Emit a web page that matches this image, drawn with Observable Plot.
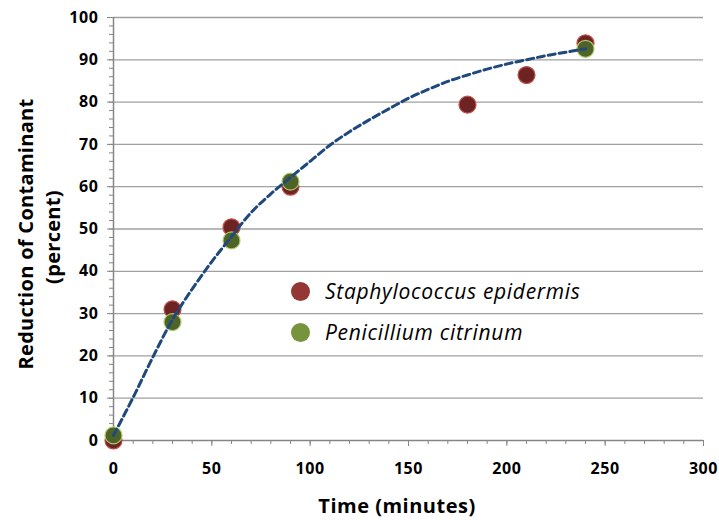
<!DOCTYPE html>
<html>
<head>
<meta charset="utf-8">
<script src="https://cdn.jsdelivr.net/npm/d3@7"></script>
<script src="https://cdn.jsdelivr.net/npm/@observablehq/plot@0.6"></script>
<style>
  html, body { margin: 0; padding: 0; background: #fff; }
  #wrap { position: relative; width: 719px; height: 520px; font-family: "Open Sans", sans-serif; }
  .leg { position: absolute; left: 291px; display: flex; align-items: center; font-style: italic; font-size: 21px; letter-spacing: 0.7px; color: #000; }
  .leg span.m { display: inline-block; width: 19px; height: 19px; border-radius: 50%; margin-right: 15px; }
  .ylab { position: absolute; font-weight: bold; font-size: 20px; letter-spacing: 0.3px; white-space: nowrap; transform: translate(-50%, -50%) rotate(-90deg); }
</style>
</head>
<body>
<div id="wrap"></div>
<script>
// ---- data ----
const staphTime = [0, 30, 60, 90, 180, 210, 240];
const staphReduction = [0, 31, 50.4, 60, 79.4, 86.4, 93.9];
const peniTime = [0, 30, 60, 90, 240];
const peniReduction = [1.2, 28, 47.3, 61.2, 92.6];
// trend line
const trendTime = [0, 10, 20, 30, 40, 50, 60, 70, 80, 90, 100, 110, 120, 130, 140, 150, 160, 170, 180, 190, 200, 210, 220, 230, 240];
const trendReduction = [1.2, 10.2, 19.7, 28.6, 35.8, 42.3, 48.2, 53.9, 58.3, 62.2, 66.0, 69.8, 73.0, 75.8, 78.4, 80.9, 83.0, 84.9, 86.4, 87.8, 89.0, 90.0, 91.0, 91.8, 92.6];
const xTicks = [0, 50, 100, 150, 200, 250, 300];
const yTicks = [0, 10, 20, 30, 40, 50, 60, 70, 80, 90, 100];
const seriesNames = ["Staphylococcus epidermis", "Penicillium citrinum"];
const seriesColors = ["#943634", "#77933c"];

const staph = staphTime.map((t, i) => ({t, v: staphReduction[i]}));
const peni = peniTime.map((t, i) => ({t, v: peniReduction[i]}));
const trend = trendTime.map((t, i) => ({t, v: trendReduction[i]}));

const axisColor = "#868686";
const chart = Plot.plot({
  width: 719,
  height: 520,
  marginLeft: 113,
  marginRight: 16,
  marginTop: 17,
  marginBottom: 80,
  style: {fontFamily: "'Open Sans', sans-serif", fontSize: "16px", fontWeight: "bold", color: "#000", background: "#fff", letterSpacing: "0.6px"},
  x: {domain: [0, 300], label: null},
  y: {domain: [0, 100], label: null},
  marks: [
    Plot.gridY(yTicks.slice(1), {stroke: "#a0a0a0", strokeOpacity: 1, strokeWidth: 1.3}),
    // minor ticks
    Plot.axisY(d3.range(0, 101, 2), {tickSize: 4, text: null, stroke: axisColor}),
    Plot.axisX(d3.range(0, 301, 10), {tickSize: 4, text: null, stroke: axisColor}),
    // major ticks with labels
    Plot.axisY(yTicks, {tickSize: 6, tickPadding: 9, stroke: axisColor, fill: "#000", fontWeight: "bold", fontSize: 16}),
    Plot.axisX(xTicks, {tickSize: 6, tickPadding: 16, stroke: axisColor, fill: "#000", fontWeight: "bold", fontSize: 16}),
    Plot.ruleX([0], {stroke: axisColor, strokeWidth: 1.5}),
    Plot.ruleY([0], {stroke: axisColor, strokeWidth: 1.5}),
    Plot.dot(staph, {x: "t", y: "v", r: 8.5, fill: "#6e2323", stroke: "#c0504d", strokeWidth: 1.2}),
    Plot.dot(peni, {x: "t", y: "v", r: 8.5, fill: "#4f6228", stroke: "#a9c96a", strokeWidth: 1.2}),
    Plot.line(trend, {x: "t", y: "v", curve: "catmull-rom", stroke: "#1f497d", strokeWidth: 3, strokeDasharray: "7,4"})
  ]
});

const wrap = document.getElementById("wrap");
wrap.appendChild(chart);

// axis titles
const xt = document.createElement("div");
xt.textContent = "Time (minutes)";
xt.style.cssText = "position:absolute;left:397px;top:505px;transform:translate(-50%,-50%);font-weight:bold;font-size:20px;line-height:1.15;letter-spacing:0.5px;white-space:nowrap;";
wrap.appendChild(xt);
const yl1 = document.createElement("div");
yl1.className = "ylab"; yl1.textContent = "Reduction of Contaminant";
yl1.style.left = "25px"; yl1.style.top = "234px";
wrap.appendChild(yl1);
const yl2 = document.createElement("div");
yl2.className = "ylab"; yl2.textContent = "(percent)";
yl2.style.left = "52px"; yl2.style.top = "237px";
wrap.appendChild(yl2);

// legend
const legTops = [291, 332];
seriesNames.forEach((name, i) => {
  const d = document.createElement("div");
  d.className = "leg";
  d.style.top = (legTops[i] - 15) + "px";
  d.style.height = "30px";
  const m = document.createElement("span");
  m.className = "m"; m.style.background = seriesColors[i];
  d.appendChild(m);
  const s = document.createElement("span");
  s.textContent = name;
  d.appendChild(s);
  wrap.appendChild(d);
});
</script>
</body>
</html>
